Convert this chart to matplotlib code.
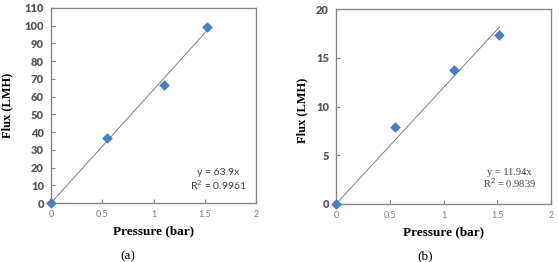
import matplotlib
matplotlib.use("Agg")
import matplotlib.pyplot as plt
import numpy as np

# measured data, panel (a)
pressure_a = [0, 0.55, 1.1, 1.52]
flux_a = [0, 36.5, 66.5, 99.2]
slope_a = 63.9
r2_a = 0.9961

# measured data, panel (b)
pressure_b = [0, 0.55, 1.1, 1.52]
flux_b = [0, 7.9, 13.7, 17.3]
slope_b = 11.94
r2_b = 0.9839

x_ticks = [0, 0.5, 1, 1.5, 2]
x_tick_labels = ["0", "0.5", "1", "1.5", "2"]
y_ticks_a = list(range(0, 111, 10))
y_ticks_b = [0, 5, 10, 15, 20]

W, H = 559, 262
fig = plt.figure(figsize=(W / 100, H / 100), dpi=100)
fig.patch.set_facecolor("white")

spine_col = "#868686"
tick_col = "#595959"
marker_col = "#4a7ebb"


def px_axes(l, t, r, b):
    # pixel box -> figure fractions
    return fig.add_axes([l / W, 1 - b / H, (r - l) / W, (b - t) / H])


def style(ax, x, y, slope, r2, yticks, ylim, eq_font, eq_pos, ylab_pos):
    xl = np.array([0, x[-1]])
    ax.plot(xl, slope * xl, color="#7f7f7f", lw=0.7, zorder=2)
    ax.scatter(x, y, marker="D", s=20, color=marker_col, zorder=3, clip_on=False)
    ax.set_xlim(0, 2)
    ax.set_ylim(*ylim)
    ax.set_xticks(x_ticks)
    ax.set_xticklabels(x_tick_labels, fontsize=6.5, color="#7f7f7f", family="Lato")
    ax.set_yticks(yticks)
    ax.set_yticklabels([str(v) for v in yticks], fontsize=8, color=tick_col,
                       family="Lato", fontweight="heavy")
    ax.tick_params(direction="in", length=3, width=0.8, color=spine_col, pad=5)
    for s in ax.spines.values():
        s.set_color(spine_col)
        s.set_linewidth(1.0)
    ax.set_xlabel("Pressure (bar)", family="Liberation Serif", fontweight="bold",
                  fontsize=9.5)
    ax.xaxis.set_label_coords(0.5, -0.145)
    ax.xaxis.label.set_va("center")
    ax.set_ylabel("Flux (LMH)", family="Liberation Serif", fontweight="bold",
                  fontsize=9)
    ax.yaxis.set_label_coords(*ylab_pos)
    ax.yaxis.label.set_va("center")
    ax.text(eq_pos[0], eq_pos[1], f"y = {slope:g}x", transform=ax.transAxes,
            ha="center", va="center", fontsize=7.5, family=eq_font, color="#404040")
    ax.text(eq_pos[0], eq_pos[2], f"R$^2$ = {r2:.4f}", transform=ax.transAxes,
            ha="center", va="center", fontsize=7.5, family=eq_font, color="#404040")


ax_a = px_axes(51, 8, 256, 203)
style(ax_a, pressure_a, flux_a, slope_a, r2_a, y_ticks_a, (0, 110), "Lato",
      (0.815, 0.154, 0.092), (-0.215, 0.503))

ax_b = px_axes(336, 9, 551, 204)
style(ax_b, pressure_b, flux_b, slope_b, r2_b, y_ticks_b, (0, 20),
      "Liberation Serif", (0.805, 0.159, 0.105), (-0.158, 0.482))

fig.text(128 / W, 1 - 256 / H, "(a)", ha="center", va="center",
         family="Liberation Serif", fontsize=9.5)
fig.text(425 / W, 1 - 256 / H, "(b)", ha="center", va="center",
         family="Liberation Serif", fontsize=9.5)

fig.savefig("out.png", dpi=100)
